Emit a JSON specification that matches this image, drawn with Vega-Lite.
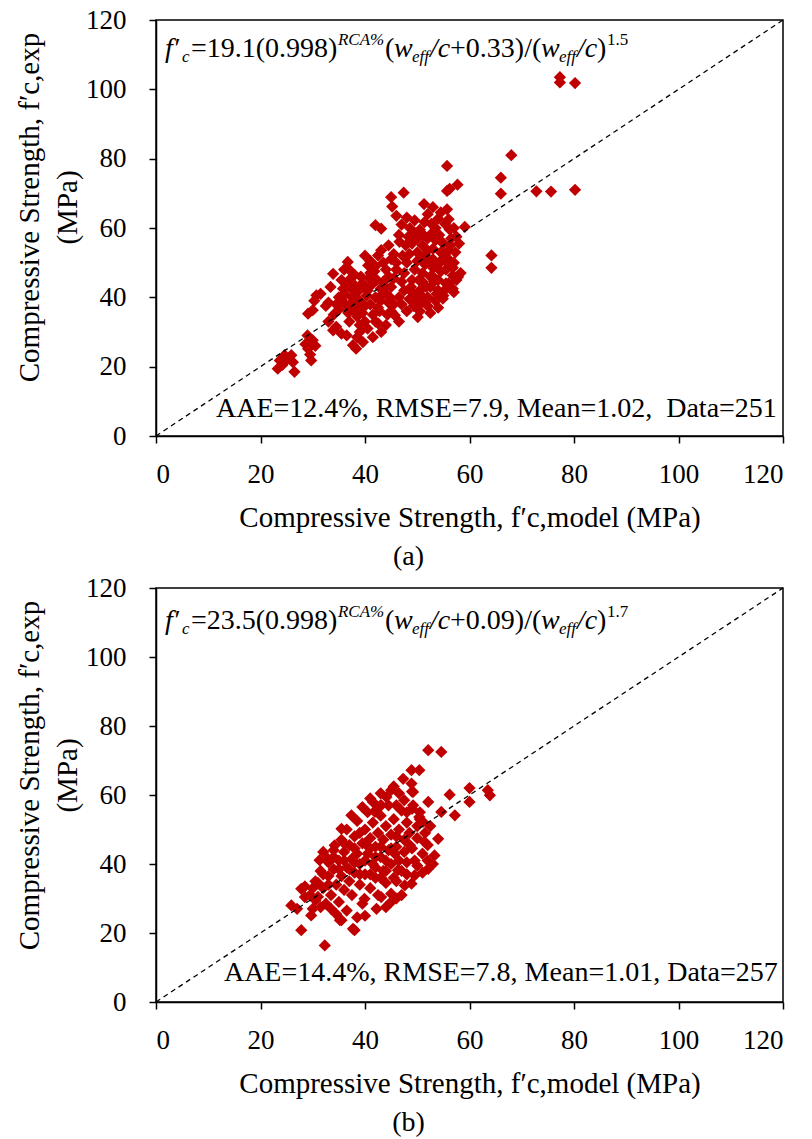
{
  "$schema": "https://vega.github.io/schema/vega-lite/v6.json",
  "background": "white",
  "padding": {"left": 14, "top": 5, "right": 5, "bottom": 5},
  "spacing": 1,
  "config": {
    "font": "Liberation Serif",
    "view": {"stroke": "black", "strokeWidth": 1.5},
    "style": {"guide-label": {"font": "Liberation Serif"}, "guide-title": {"font": "Liberation Serif"}}
  },
  "datasets": {
    "a": [
      {"x":23.7,"y":21.8},{"x":23.3,"y":19.4},{"x":24.6,"y":23.3},{"x":26.2,"y":21.3},{"x":26.5,"y":18.5},{"x":25.9,"y":23.3},{"x":25.0,"y":22.0},{"x":24.2,"y":20.5},
      {"x":29.0,"y":29.0},{"x":30.0,"y":27.6},{"x":29.7,"y":21.8},{"x":29.1,"y":25.2},{"x":29.5,"y":23.5},{"x":30.5,"y":26.0},{"x":28.6,"y":26.5},
      {"x":29.1,"y":35.3},{"x":30.0,"y":36.3},{"x":30.7,"y":40.6},{"x":31.5,"y":41.0},{"x":30.3,"y":39.0},
      {"x":33.4,"y":43.0},{"x":33.9,"y":46.8},{"x":33.9,"y":30.5},{"x":35.5,"y":29.5},{"x":34.5,"y":31.5},{"x":33.0,"y":33.0},{"x":34.0,"y":35.0},{"x":32.5,"y":37.5},{"x":33.0,"y":38.5},{"x":34.5,"y":38.0},{"x":35.0,"y":36.5},{"x":35.5,"y":39.5},{"x":36.0,"y":41.0},{"x":36.5,"y":44.0},{"x":35.5,"y":45.0},{"x":36.7,"y":50.2},{"x":37.1,"y":47.8},{"x":37.0,"y":43.0},{"x":37.5,"y":40.0},{"x":37.2,"y":38.0},{"x":38.0,"y":36.0},{"x":38.5,"y":34.5},{"x":37.7,"y":26.2},{"x":39.6,"y":27.1},{"x":38.3,"y":25.2},{"x":39.0,"y":30.0},{"x":40.0,"y":33.0},{"x":39.5,"y":35.5},{"x":40.0,"y":37.5},{"x":39.0,"y":39.0},{"x":38.5,"y":41.5},{"x":38.0,"y":43.5},{"x":39.5,"y":44.0},{"x":40.5,"y":42.0},{"x":40.6,"y":49.2},{"x":41.0,"y":47.0},{"x":41.5,"y":45.0},{"x":42.0,"y":40.0},{"x":41.0,"y":38.0},{"x":41.5,"y":35.0},{"x":42.0,"y":33.0},{"x":43.1,"y":30.0},{"x":42.5,"y":37.0},{"x":43.0,"y":39.0},{"x":43.0,"y":42.5},{"x":43.5,"y":44.5},{"x":43.1,"y":53.6},{"x":42.5,"y":52.1},{"x":42.0,"y":60.8},{"x":43.1,"y":59.8},{"x":44.0,"y":48.0},{"x":44.5,"y":46.0},{"x":44.0,"y":41.0},{"x":44.5,"y":38.5},{"x":45.0,"y":36.0},{"x":45.7,"y":34.8},{"x":45.0,"y":43.0},{"x":45.5,"y":45.5},{"x":46.0,"y":48.0},{"x":46.0,"y":50.0},{"x":46.6,"y":56.0},{"x":45.0,"y":68.9},{"x":45.2,"y":66.2},{"x":47.4,"y":70.2},{"x":46.5,"y":40.0},{"x":47.0,"y":38.0},{"x":47.5,"y":42.0},{"x":47.0,"y":44.5},{"x":47.5,"y":47.0},{"x":48.0,"y":50.0},{"x":48.5,"y":52.5},{"x":48.0,"y":36.0},{"x":48.5,"y":39.5},{"x":49.0,"y":41.5},{"x":49.0,"y":45.0},{"x":49.5,"y":48.0},{"x":50.0,"y":50.5},{"x":50.0,"y":53.0},{"x":48.6,"y":60.0},{"x":49.5,"y":62.2},{"x":51.4,"y":61.7},{"x":51.3,"y":66.9},{"x":50.1,"y":34.3},{"x":50.5,"y":38.0},{"x":50.5,"y":42.0},{"x":51.0,"y":44.5},{"x":51.0,"y":47.0},{"x":51.5,"y":49.5},{"x":51.5,"y":52.0},{"x":51.0,"y":55.0},{"x":52.0,"y":57.0},{"x":52.7,"y":61.2},{"x":52.0,"y":40.0},{"x":52.0,"y":37.5},{"x":52.5,"y":43.0},{"x":52.5,"y":46.0},{"x":53.0,"y":48.5},{"x":53.0,"y":51.0},{"x":53.0,"y":54.0},{"x":53.5,"y":56.5},{"x":54.0,"y":62.7},{"x":53.5,"y":39.0},{"x":54.0,"y":42.0},{"x":54.0,"y":45.0},{"x":54.5,"y":47.5},{"x":54.5,"y":50.5},{"x":54.5,"y":53.0},{"x":55.0,"y":55.5},{"x":55.3,"y":61.2},{"x":55.7,"y":65.4},{"x":55.7,"y":77.9},{"x":55.7,"y":70.7},{"x":56.2,"y":71.3},{"x":57.7,"y":72.5},{"x":54.9,"y":39.6},{"x":55.5,"y":44.0},{"x":55.5,"y":48.0},{"x":56.0,"y":51.0},{"x":56.0,"y":53.5},{"x":56.2,"y":59.6},{"x":56.8,"y":46.3},{"x":57.8,"y":45.9},{"x":56.8,"y":42.5},{"x":57.0,"y":50.0},{"x":56.5,"y":57.0},{"x":59.1,"y":60.3},{"x":64.2,"y":52.1},{"x":64.2,"y":48.5},{"x":66.0,"y":74.5},{"x":66.0,"y":69.9},{"x":68.0,"y":81.0},{"x":72.8,"y":70.6},{"x":75.6,"y":70.5},{"x":80.2,"y":71.0},{"x":77.3,"y":103.5},{"x":77.3,"y":102.0},{"x":80.2,"y":101.8},
      {"x":35.0,"y":40.0},{"x":35.8,"y":42.5},{"x":36.3,"y":38.0},{"x":36.8,"y":35.5},{"x":37.3,"y":45.5},{"x":37.8,"y":42.0},{"x":38.2,"y":39.5},{"x":38.8,"y":37.0},{"x":39.2,"y":46.0},{"x":39.7,"y":43.0},{"x":40.3,"y":40.5},{"x":40.8,"y":45.5},{"x":41.2,"y":43.5},{"x":41.8,"y":47.5},{"x":42.3,"y":45.0},{"x":42.8,"y":36.0},{"x":43.4,"y":41.0},{"x":43.9,"y":43.0},{"x":44.3,"y":35.0},{"x":44.8,"y":40.0},{"x":36.0,"y":48.0},{"x":38.0,"y":46.5},{"x":40.0,"y":52.0},{"x":41.0,"y":50.5},{"x":42.0,"y":49.0},{"x":37.0,"y":33.0},{"x":39.0,"y":32.0},{"x":40.5,"y":31.0},{"x":41.5,"y":28.5},{"x":42.5,"y":32.5},{"x":44.0,"y":32.0},{"x":45.5,"y":38.0},{"x":46.5,"y":33.0},{"x":36.5,"y":29.0},{"x":38.5,"y":28.5},
      {"x":47.2,"y":52.0},{"x":47.8,"y":55.0},{"x":48.3,"y":57.5},{"x":48.8,"y":43.0},{"x":49.3,"y":37.5},{"x":49.8,"y":39.5},{"x":50.3,"y":45.0},{"x":50.8,"y":40.5},{"x":51.2,"y":58.0},{"x":51.7,"y":43.0},{"x":52.2,"y":50.0},{"x":52.8,"y":58.5},{"x":53.2,"y":44.5},{"x":53.7,"y":41.0},{"x":54.2,"y":58.0},{"x":54.7,"y":56.0},{"x":55.2,"y":42.0},{"x":55.7,"y":50.0},{"x":56.3,"y":55.0},{"x":56.8,"y":48.5},{"x":57.3,"y":53.0},{"x":49.0,"y":55.5},{"x":50.0,"y":57.0},{"x":51.0,"y":51.0},{"x":52.0,"y":53.5},{"x":53.0,"y":46.0},{"x":54.0,"y":49.5},{"x":55.0,"y":52.5},{"x":56.0,"y":44.0},{"x":57.0,"y":41.5},{"x":50.5,"y":36.0},{"x":52.5,"y":35.5},{"x":54.0,"y":37.0},{"x":55.0,"y":40.5},{"x":51.5,"y":38.5},{"x":53.5,"y":60.0},{"x":50.5,"y":59.5},{"x":49.5,"y":58.5},{"x":52.0,"y":64.0},{"x":54.5,"y":64.5},{"x":53.0,"y":66.0},{"x":56.0,"y":62.5},{"x":57.0,"y":60.0},{"x":48.0,"y":63.0},{"x":47.0,"y":61.0},{"x":46.0,"y":63.5},{"x":44.5,"y":55.0},{"x":45.0,"y":51.0},{"x":45.5,"y":52.5},{"x":43.5,"y":50.0},{"x":46.5,"y":58.0},{"x":57.5,"y":45.0},{"x":58.3,"y":47.0},{"x":58.0,"y":55.5},{"x":57.5,"y":57.5}
    ],
    "b": [
      {"x":52.1,"y":73.0},{"x":54.6,"y":72.5},{"x":48.9,"y":67.2},{"x":50.4,"y":67.2},{"x":47.3,"y":64.7},{"x":48.9,"y":63.3},{"x":49.2,"y":60.9},{"x":49.2,"y":57.0},{"x":45.0,"y":61.4},{"x":44.1,"y":59.4},{"x":43.1,"y":57.0},{"x":41.9,"y":55.1},{"x":52.1,"y":58.0},{"x":56.2,"y":60.1},{"x":60.0,"y":62.0},{"x":60.0,"y":58.0},{"x":63.5,"y":61.4},{"x":63.9,"y":59.9},{"x":54.6,"y":55.1},{"x":57.2,"y":54.1},{"x":50.4,"y":53.6},{"x":51.1,"y":52.2},{"x":54.0,"y":47.3},{"x":53.3,"y":42.5},{"x":52.1,"y":38.6},{"x":49.5,"y":36.7},{"x":48.9,"y":34.3},{"x":51.4,"y":46.4},{"x":48.6,"y":45.4},{"x":45.7,"y":43.0},{"x":46.3,"y":38.2},{"x":42.2,"y":27.0},{"x":35.5,"y":23.7},{"x":37.7,"y":21.2},{"x":37.4,"y":54.1},{"x":35.5,"y":50.2},{"x":34.2,"y":45.4},{"x":32.9,"y":41.5},{"x":32.0,"y":43.5},{"x":31.3,"y":41.1},{"x":27.8,"y":32.8},{"x":25.9,"y":28.0},{"x":28.5,"y":30.4},{"x":30.0,"y":27.0},{"x":29.7,"y":25.1},{"x":27.8,"y":20.8},{"x":35.2,"y":23.7},{"x":38.0,"y":20.8},{"x":32.3,"y":16.4},{"x":45.0,"y":31.4},{"x":43.1,"y":30.4},{"x":39.9,"y":29.9},{"x":47.6,"y":33.8},
      {"x":30.5,"y":35.0},{"x":31.0,"y":30.5},{"x":31.5,"y":38.0},{"x":32.0,"y":33.0},{"x":32.5,"y":28.5},{"x":33.0,"y":36.5},{"x":33.0,"y":40.5},{"x":33.5,"y":31.0},{"x":34.0,"y":44.0},{"x":34.0,"y":38.5},{"x":34.5,"y":34.0},{"x":35.0,"y":29.0},{"x":35.0,"y":41.0},{"x":35.5,"y":47.0},{"x":35.5,"y":36.5},{"x":36.0,"y":32.5},{"x":36.0,"y":43.5},{"x":36.5,"y":39.0},{"x":36.5,"y":50.0},{"x":37.0,"y":35.0},{"x":37.0,"y":45.5},{"x":37.5,"y":41.5},{"x":37.5,"y":31.0},{"x":38.0,"y":48.0},{"x":38.0,"y":37.5},{"x":38.5,"y":43.0},{"x":38.5,"y":52.5},{"x":39.0,"y":34.0},{"x":39.0,"y":40.0},{"x":39.5,"y":46.0},{"x":39.5,"y":28.5},{"x":40.0,"y":50.0},{"x":40.0,"y":37.0},{"x":40.5,"y":43.0},{"x":40.5,"y":55.0},{"x":41.0,"y":33.0},{"x":41.0,"y":47.5},{"x":41.5,"y":40.0},{"x":41.5,"y":52.0},{"x":42.0,"y":36.0},{"x":42.0,"y":45.0},{"x":42.5,"y":49.0},{"x":42.5,"y":31.0},{"x":43.0,"y":42.0},{"x":43.0,"y":54.0},{"x":43.5,"y":38.0},{"x":43.5,"y":47.0},{"x":44.0,"y":51.0},{"x":44.0,"y":34.5},{"x":44.5,"y":44.0},{"x":44.5,"y":57.0},{"x":45.0,"y":40.0},{"x":45.0,"y":48.5},{"x":45.5,"y":53.0},{"x":45.5,"y":36.0},{"x":46.0,"y":45.0},{"x":46.0,"y":30.0},{"x":46.5,"y":50.0},{"x":46.5,"y":41.0},{"x":47.0,"y":55.5},{"x":47.0,"y":38.0},{"x":47.5,"y":47.0},{"x":47.5,"y":43.5},{"x":48.0,"y":52.0},{"x":48.0,"y":40.5},{"x":48.5,"y":49.0},{"x":49.0,"y":44.5},{"x":49.0,"y":56.0},{"x":49.5,"y":41.0},{"x":50.0,"y":51.0},{"x":50.0,"y":47.5},{"x":50.5,"y":55.0},{"x":51.0,"y":43.0},{"x":51.5,"y":49.0},{"x":52.0,"y":45.5},{"x":52.5,"y":51.0},
      {"x":34.0,"y":42.0},{"x":36.0,"y":46.0},{"x":38.0,"y":44.5},{"x":39.0,"y":37.0},{"x":40.0,"y":41.0},{"x":41.0,"y":44.5},{"x":42.0,"y":39.0},{"x":43.0,"y":36.0},{"x":44.0,"y":41.0},{"x":45.0,"y":44.5},{"x":46.0,"y":48.0},{"x":37.0,"y":38.5},{"x":39.0,"y":49.0},{"x":41.0,"y":37.0},{"x":43.0,"y":45.0},{"x":40.0,"y":46.0},{"x":42.0,"y":42.0},{"x":44.0,"y":38.0},{"x":38.0,"y":40.5},{"x":36.0,"y":41.0},{"x":35.0,"y":38.5},{"x":33.0,"y":34.0},{"x":32.0,"y":37.0},{"x":31.0,"y":34.5},{"x":29.5,"y":31.0},{"x":30.0,"y":33.0},{"x":28.5,"y":33.5},{"x":27.0,"y":27.0},{"x":31.5,"y":27.5},{"x":33.5,"y":27.0},{"x":34.5,"y":25.5},{"x":36.5,"y":26.5},{"x":38.5,"y":24.5},{"x":40.0,"y":25.0},{"x":44.0,"y":27.5},{"x":45.0,"y":29.0},{"x":47.0,"y":31.0},{"x":46.0,"y":35.0},{"x":48.0,"y":37.0},{"x":50.0,"y":39.5},{"x":52.0,"y":41.0},{"x":53.0,"y":40.0},{"x":51.0,"y":37.5},{"x":30.5,"y":29.5},
      {"x":39.5,"y":56.5},{"x":41.5,"y":58.0},{"x":43.0,"y":57.0},{"x":42.0,"y":55.5},{"x":41.0,"y":59.0},{"x":43.0,"y":60.5},{"x":45.5,"y":62.5},{"x":46.5,"y":60.5},{"x":50.5,"y":53.0},{"x":49.0,"y":61.0},{"x":48.0,"y":55.0},{"x":46.0,"y":57.0},{"x":47.5,"y":58.5}
    ],
    "diag": [{"x":0,"y":0},{"x":120,"y":120}]
  },
  "vconcat": [
    {
      "width": 627, "height": 416,
      "title": {"text": "(a)", "orient": "bottom", "anchor": "middle", "frame": "group", "dx": -61, "offset": 11, "fontSize": 28, "font": "Liberation Serif", "fontWeight": "normal", "color": "black"},
      "encoding": {
        "x": {"type": "quantitative", "scale": {"domain": [0, 120], "nice": false}, "axis": {"values": [0,20,40,60,80,100,120], "title": "Compressive Strength, f′c,model (MPa)", "grid": false, "domainColor": "black", "domainWidth": 1.5, "tickColor": "black", "tickWidth": 1.5, "tickSize": 7, "labelFont": "Liberation Serif", "labelFontSize": 27, "labelColor": "black", "labelPadding": 18, "titleFont": "Liberation Serif", "titleFontSize": 29, "titleFontWeight": "normal", "titleColor": "black", "titlePadding": 16}},
        "y": {"type": "quantitative", "scale": {"domain": [0, 120], "nice": false}, "axis": {"values": [0,20,40,60,80,100,120], "title": ["Compressive Strength, f′c,exp", "(MPa)"], "grid": false, "domainColor": "black", "domainWidth": 1.5, "tickColor": "black", "tickWidth": 1.5, "tickSize": 7, "labelFont": "Liberation Serif", "labelFontSize": 27, "labelColor": "black", "labelPadding": 23, "titleFont": "Liberation Serif", "titleFontSize": 29, "titleFontWeight": "normal", "titleColor": "black", "titlePadding": 3, "titleLineHeight": 38, "titleY": 187}}
      },
      "layer": [
        {"data": {"name": "a"}, "mark": {"type": "point", "shape": "diamond", "filled": true, "color": "#C00000", "opacity": 1, "size": 150}, "encoding": {"x": {"field": "x", "type": "quantitative"}, "y": {"field": "y", "type": "quantitative"}}},
        {"data": {"name": "diag"}, "mark": {"type": "line", "color": "black", "strokeDash": [5, 4], "strokeWidth": 1.3}, "encoding": {"x": {"field": "x", "type": "quantitative"}, "y": {"field": "y", "type": "quantitative"}}},
        {"data": {"values": [{}]}, "mark": {"type": "text", "text": "f′", "fontStyle": "italic", "fontSize": 28, "align": "left", "baseline": "alphabetic", "color": "black"}, "encoding": {"x": {"datum": 1.72}, "y": {"datum": 109.3}}},
        {"data": {"values": [{}]}, "mark": {"type": "text", "text": "c", "fontStyle": "italic", "fontSize": 17, "dy": 5, "align": "left", "baseline": "alphabetic", "color": "black"}, "encoding": {"x": {"datum": 4.98}, "y": {"datum": 109.3}}},
        {"data": {"values": [{}]}, "mark": {"type": "text", "text": "=19.1(0.998)", "fontSize": 28, "align": "left", "baseline": "alphabetic", "color": "black"}, "encoding": {"x": {"datum": 6.7}, "y": {"datum": 109.3}}},
        {"data": {"values": [{}]}, "mark": {"type": "text", "text": "RCA%", "fontStyle": "italic", "fontSize": 17, "dy": -12, "align": "left", "baseline": "alphabetic", "color": "black"}, "encoding": {"x": {"datum": 34.83}, "y": {"datum": 109.3}}},
        {"data": {"values": [{}]}, "mark": {"type": "text", "text": "(", "fontSize": 28, "align": "left", "baseline": "alphabetic", "color": "black"}, "encoding": {"x": {"datum": 43.83}, "y": {"datum": 109.3}}},
        {"data": {"values": [{}]}, "mark": {"type": "text", "text": "w", "fontStyle": "italic", "fontSize": 28, "align": "left", "baseline": "alphabetic", "color": "black"}, "encoding": {"x": {"datum": 45.55}, "y": {"datum": 109.3}}},
        {"data": {"values": [{}]}, "mark": {"type": "text", "text": "eff", "fontStyle": "italic", "fontSize": 17, "dy": 5, "align": "left", "baseline": "alphabetic", "color": "black"}, "encoding": {"x": {"datum": 49.0}, "y": {"datum": 109.3}}},
        {"data": {"values": [{}]}, "mark": {"type": "text", "text": "/c", "fontStyle": "italic", "fontSize": 28, "align": "left", "baseline": "alphabetic", "color": "black"}, "encoding": {"x": {"datum": 52.44}, "y": {"datum": 109.3}}},
        {"data": {"values": [{}]}, "mark": {"type": "text", "text": "+0.33)/(", "fontSize": 28, "align": "left", "baseline": "alphabetic", "color": "black"}, "encoding": {"x": {"datum": 56.27}, "y": {"datum": 109.3}}},
        {"data": {"values": [{}]}, "mark": {"type": "text", "text": "w", "fontStyle": "italic", "fontSize": 28, "align": "left", "baseline": "alphabetic", "color": "black"}, "encoding": {"x": {"datum": 73.68}, "y": {"datum": 109.3}}},
        {"data": {"values": [{}]}, "mark": {"type": "text", "text": "eff", "fontStyle": "italic", "fontSize": 17, "dy": 5, "align": "left", "baseline": "alphabetic", "color": "black"}, "encoding": {"x": {"datum": 77.13}, "y": {"datum": 109.3}}},
        {"data": {"values": [{}]}, "mark": {"type": "text", "text": "/c", "fontStyle": "italic", "fontSize": 28, "align": "left", "baseline": "alphabetic", "color": "black"}, "encoding": {"x": {"datum": 80.57}, "y": {"datum": 109.3}}},
        {"data": {"values": [{}]}, "mark": {"type": "text", "text": ")", "fontSize": 28, "align": "left", "baseline": "alphabetic", "color": "black"}, "encoding": {"x": {"datum": 84.4}, "y": {"datum": 109.3}}},
        {"data": {"values": [{}]}, "mark": {"type": "text", "text": "1.5", "fontSize": 17, "dy": -12, "align": "left", "baseline": "alphabetic", "color": "black"}, "encoding": {"x": {"datum": 86.32}, "y": {"datum": 109.3}}},
        {"data": {"values": [{}]}, "mark": {"type": "text", "text": "AAE=12.4%, RMSE=7.9, Mean=1.02,\u00a0 Data=251", "fontSize": 28, "align": "left", "baseline": "alphabetic", "color": "black"}, "encoding": {"x": {"datum": 11.48}, "y": {"datum": 5.5}}}
      ]
    },
    {
      "width": 627, "height": 414,
      "title": {"text": "(b)", "orient": "bottom", "anchor": "middle", "frame": "group", "dx": -61, "offset": 11, "fontSize": 28, "font": "Liberation Serif", "fontWeight": "normal", "color": "black"},
      "encoding": {
        "x": {"type": "quantitative", "scale": {"domain": [0, 120], "nice": false}, "axis": {"values": [0,20,40,60,80,100,120], "title": "Compressive Strength, f′c,model (MPa)", "grid": false, "domainColor": "black", "domainWidth": 1.5, "tickColor": "black", "tickWidth": 1.5, "tickSize": 7, "labelFont": "Liberation Serif", "labelFontSize": 27, "labelColor": "black", "labelPadding": 18, "titleFont": "Liberation Serif", "titleFontSize": 29, "titleFontWeight": "normal", "titleColor": "black", "titlePadding": 16}},
        "y": {"type": "quantitative", "scale": {"domain": [0, 120], "nice": false}, "axis": {"values": [0,20,40,60,80,100,120], "title": ["Compressive Strength, f′c,exp", "(MPa)"], "grid": false, "domainColor": "black", "domainWidth": 1.5, "tickColor": "black", "tickWidth": 1.5, "tickSize": 7, "labelFont": "Liberation Serif", "labelFontSize": 27, "labelColor": "black", "labelPadding": 23, "titleFont": "Liberation Serif", "titleFontSize": 29, "titleFontWeight": "normal", "titleColor": "black", "titlePadding": 3, "titleLineHeight": 38, "titleY": 187}}
      },
      "layer": [
        {"data": {"name": "b"}, "mark": {"type": "point", "shape": "diamond", "filled": true, "color": "#C00000", "opacity": 1, "size": 150}, "encoding": {"x": {"field": "x", "type": "quantitative"}, "y": {"field": "y", "type": "quantitative"}}},
        {"data": {"name": "diag"}, "mark": {"type": "line", "color": "black", "strokeDash": [5, 4], "strokeWidth": 1.3}, "encoding": {"x": {"field": "x", "type": "quantitative"}, "y": {"field": "y", "type": "quantitative"}}},
        {"data": {"values": [{}]}, "mark": {"type": "text", "text": "f′", "fontStyle": "italic", "fontSize": 28, "align": "left", "baseline": "alphabetic", "color": "black"}, "encoding": {"x": {"datum": 1.72}, "y": {"datum": 108.1}}},
        {"data": {"values": [{}]}, "mark": {"type": "text", "text": "c", "fontStyle": "italic", "fontSize": 17, "dy": 5, "align": "left", "baseline": "alphabetic", "color": "black"}, "encoding": {"x": {"datum": 4.98}, "y": {"datum": 108.1}}},
        {"data": {"values": [{}]}, "mark": {"type": "text", "text": "=23.5(0.998)", "fontSize": 28, "align": "left", "baseline": "alphabetic", "color": "black"}, "encoding": {"x": {"datum": 6.7}, "y": {"datum": 108.1}}},
        {"data": {"values": [{}]}, "mark": {"type": "text", "text": "RCA%", "fontStyle": "italic", "fontSize": 17, "dy": -12, "align": "left", "baseline": "alphabetic", "color": "black"}, "encoding": {"x": {"datum": 34.83}, "y": {"datum": 108.1}}},
        {"data": {"values": [{}]}, "mark": {"type": "text", "text": "(", "fontSize": 28, "align": "left", "baseline": "alphabetic", "color": "black"}, "encoding": {"x": {"datum": 43.83}, "y": {"datum": 108.1}}},
        {"data": {"values": [{}]}, "mark": {"type": "text", "text": "w", "fontStyle": "italic", "fontSize": 28, "align": "left", "baseline": "alphabetic", "color": "black"}, "encoding": {"x": {"datum": 45.55}, "y": {"datum": 108.1}}},
        {"data": {"values": [{}]}, "mark": {"type": "text", "text": "eff", "fontStyle": "italic", "fontSize": 17, "dy": 5, "align": "left", "baseline": "alphabetic", "color": "black"}, "encoding": {"x": {"datum": 49.0}, "y": {"datum": 108.1}}},
        {"data": {"values": [{}]}, "mark": {"type": "text", "text": "/c", "fontStyle": "italic", "fontSize": 28, "align": "left", "baseline": "alphabetic", "color": "black"}, "encoding": {"x": {"datum": 52.44}, "y": {"datum": 108.1}}},
        {"data": {"values": [{}]}, "mark": {"type": "text", "text": "+0.09)/(", "fontSize": 28, "align": "left", "baseline": "alphabetic", "color": "black"}, "encoding": {"x": {"datum": 56.27}, "y": {"datum": 108.1}}},
        {"data": {"values": [{}]}, "mark": {"type": "text", "text": "w", "fontStyle": "italic", "fontSize": 28, "align": "left", "baseline": "alphabetic", "color": "black"}, "encoding": {"x": {"datum": 73.68}, "y": {"datum": 108.1}}},
        {"data": {"values": [{}]}, "mark": {"type": "text", "text": "eff", "fontStyle": "italic", "fontSize": 17, "dy": 5, "align": "left", "baseline": "alphabetic", "color": "black"}, "encoding": {"x": {"datum": 77.13}, "y": {"datum": 108.1}}},
        {"data": {"values": [{}]}, "mark": {"type": "text", "text": "/c", "fontStyle": "italic", "fontSize": 28, "align": "left", "baseline": "alphabetic", "color": "black"}, "encoding": {"x": {"datum": 80.57}, "y": {"datum": 108.1}}},
        {"data": {"values": [{}]}, "mark": {"type": "text", "text": ")", "fontSize": 28, "align": "left", "baseline": "alphabetic", "color": "black"}, "encoding": {"x": {"datum": 84.4}, "y": {"datum": 108.1}}},
        {"data": {"values": [{}]}, "mark": {"type": "text", "text": "1.7", "fontSize": 17, "dy": -12, "align": "left", "baseline": "alphabetic", "color": "black"}, "encoding": {"x": {"datum": 86.32}, "y": {"datum": 108.1}}},
        {"data": {"values": [{}]}, "mark": {"type": "text", "text": "AAE=14.4%, RMSE=7.8, Mean=1.01, Data=257", "fontSize": 28, "align": "left", "baseline": "alphabetic", "color": "black"}, "encoding": {"x": {"datum": 13.0}, "y": {"datum": 6.0}}}
      ]
    }
  ]
}
